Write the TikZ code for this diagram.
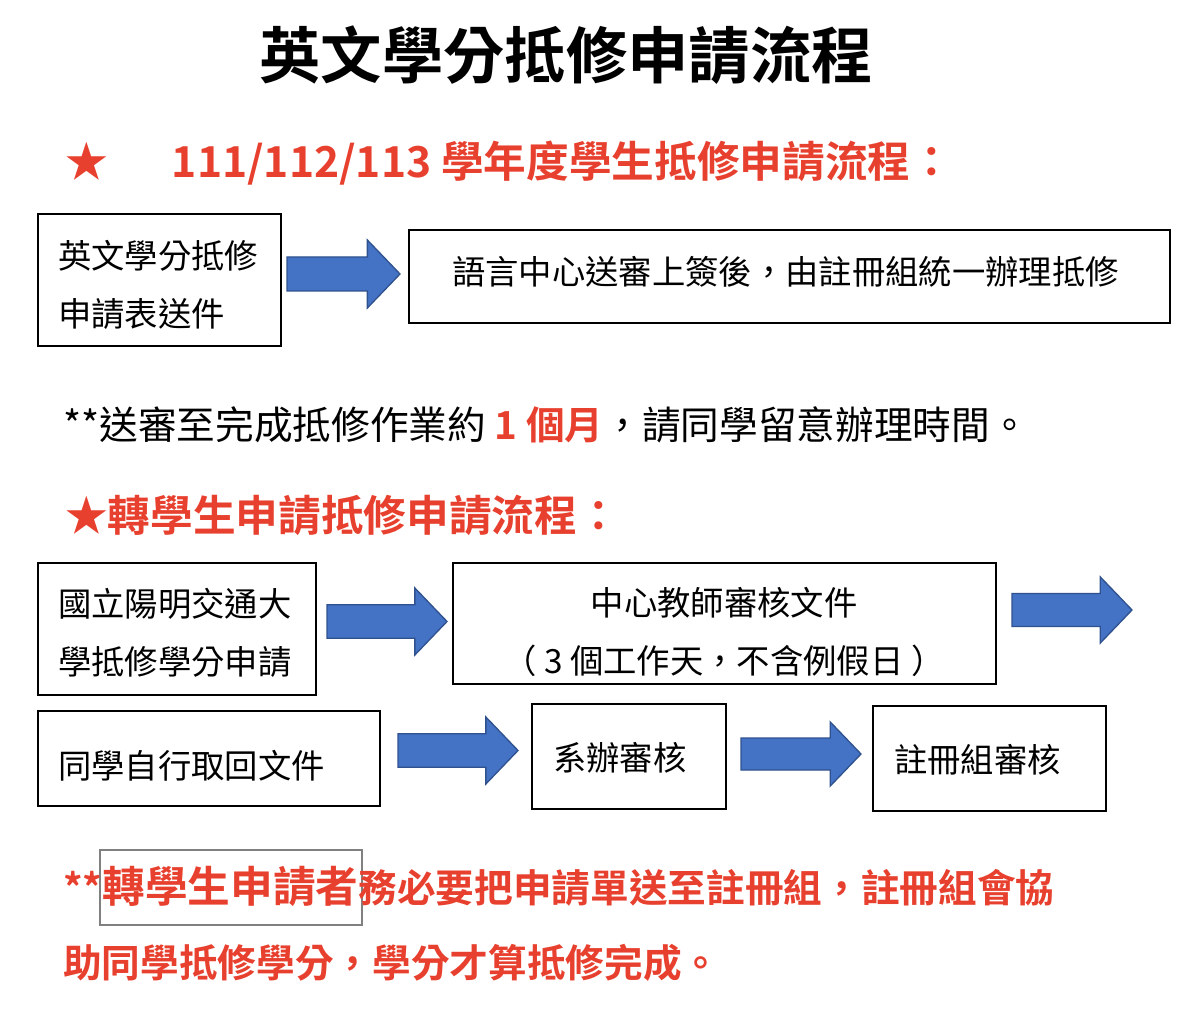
\documentclass[tikz,border=0pt]{standalone}
\usepackage{fontspec}
\setmainfont{Noto Sans CJK TC}
\newfontfamily\boldcjk{Noto Sans CJK TC Bold}
\definecolor{myred}{HTML}{E8402E}
\definecolor{myblue}{HTML}{4472C4}
\definecolor{myblueline}{HTML}{2F528F}
\newcommand{\barrow}[5]{% name x1 y1 x2 y2
  \pgfmathsetmacro{\ym}{(#3+#5)/2}
  \pgfmathsetmacro{\hh}{(#5-#3)/4}
  \pgfmathsetmacro{\xh}{#4-(#5-#3)*0.48}
  \draw[fill=myblue,draw=myblueline,line width=1pt] (#2,\ym-\hh) -- (\xh,\ym-\hh) -- (\xh,#3) -- (#4,\ym) -- (\xh,#5) -- (\xh,\ym+\hh) -- (#2,\ym+\hh) -- cycle;
  \coordinate (#1) at (#4,\ym);}
\begin{document}
\begin{tikzpicture}[x=0.75pt,y=-0.75pt,
  box/.style={draw,line width=1.5pt},
  t/.style={anchor=west,inner sep=0pt,font=\fontsize{25}{25}\selectfont},
  rb/.style={anchor=west,inner sep=0pt,text=myred,font=\boldcjk\fontsize{32}{32}\selectfont}]
\useasboundingbox (0,0) rectangle (1200,1016);
\node[inner sep=0pt,font=\boldcjk\fontsize{46}{46}\selectfont] (title) at (566,55) {英文學分抵修申請流程};
\node[rb] (h1) at (65,163) {★\hspace{1.5em}111/112/113 學年度學生抵修申請流程：};
\draw[box] (38,214) rectangle (281,346);
\node[t] (b1a) at (58,256) {英文學分抵修};
\node[t] (b1b) at (58,314) {申請表送件};
\barrow{a1}{287}{240}{400}{308}
\draw[box] (409,230) rectangle (1170,323);
\node[t] (b2) at (452,272) {語言中心送審上簽後，由註冊組統一辦理抵修};
\node[t,font=\fontsize{29}{29}\selectfont] (note1) at (63,425) {**送審至完成抵修作業約 \textcolor{myred}{\boldcjk 1 個月}，請同學留意辦理時間。};
\node[rb] (h2) at (65,515) {★轉學生申請抵修申請流程：};
\draw[box] (38,563) rectangle (316,695);
\node[t] (b3a) at (58,604) {國立陽明交通大};
\node[t] (b3b) at (58,662) {學抵修學分申請};
\barrow{a2}{327}{588}{447}{655}
\draw[box] (453,563) rectangle (996,684);
\node[inner sep=0pt,font=\fontsize{25}{25}\selectfont] (b4a) at (724,603) {中心教師審核文件};
\node[inner sep=0pt,font=\fontsize{25}{25}\selectfont] (b4b) at (724,661) {（ 3 個工作天，不含例假日 ）};
\barrow{a3}{1012}{577}{1132}{643}
\draw[box] (38,711) rectangle (380,806);
\node[t] (b5) at (58,766) {同學自行取回文件};
\barrow{a4}{398}{717}{518}{784}
\draw[box] (532,704) rectangle (726,809);
\node[t] (b6) at (553,758) {系辦審核};
\barrow{a5}{741}{722}{861}{786}
\draw[box] (873,706) rectangle (1106,811);
\node[t] (b7) at (894,760) {註冊組審核};
\draw[gray,line width=0.8pt] (100,850) rectangle (362,925);
\node[anchor=base west,inner sep=0pt,text=myred,font=\boldcjk\fontsize{29}{29}\selectfont] (n2a) at (63,902) {**{\fontsize{32}{32}\selectfont 轉學生申請者}務必要把申請單送至註冊組，註冊組會協};
\node[anchor=base west,inner sep=0pt,text=myred,font=\boldcjk\fontsize{29}{29}\selectfont] (n2b) at (63,977) {助同學抵修學分，學分才算抵修完成。};
\end{tikzpicture}
\end{document}
